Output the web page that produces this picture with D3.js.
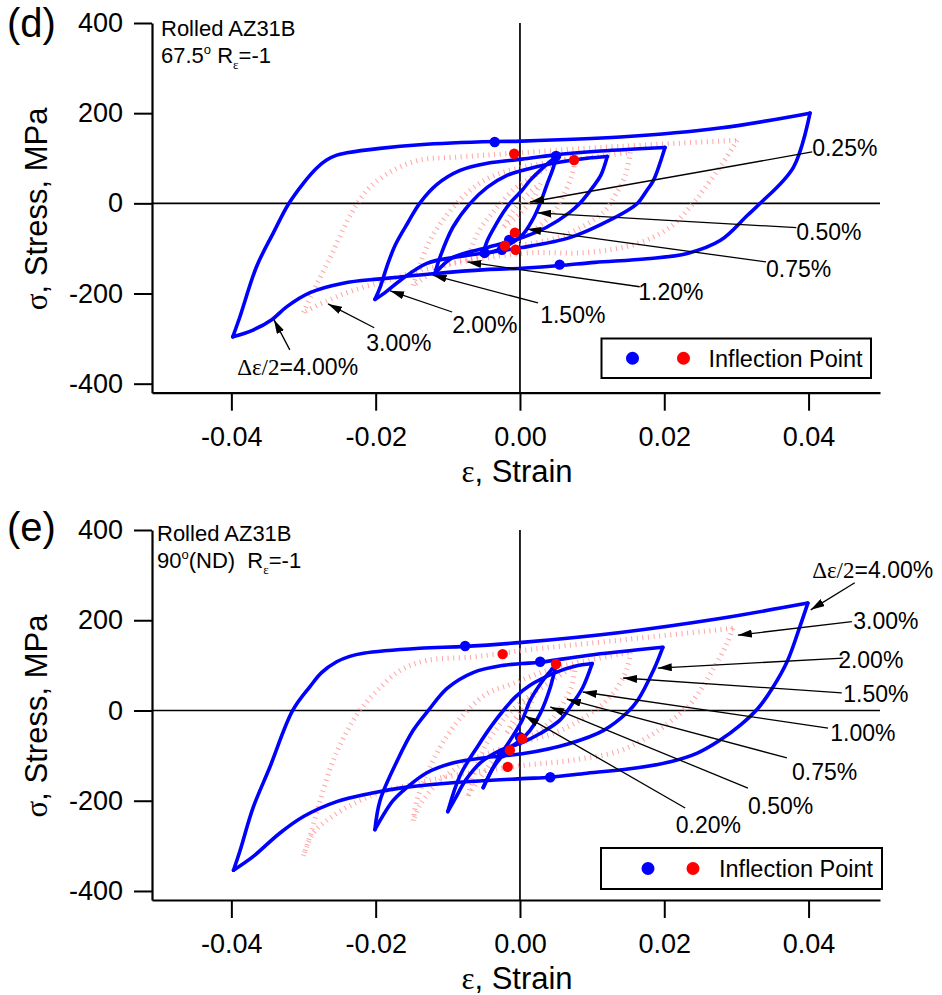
<!DOCTYPE html>
<html>
<head>
<meta charset="utf-8">
<script src="https://cdn.jsdelivr.net/npm/d3@7"></script>
<style>
  body { margin: 0; background: #fff; }
  svg text { font-family: "Liberation Sans", Arial, Helvetica, sans-serif; fill: #000; }
</style>
</head>
<body>
<svg id="fig" width="942" height="995"></svg>
<script>
// ---------- axes ----------
const strainDomain = [-0.051, 0.0499];
const stressDomain = [-420, 400];
const strainTicks = [-0.04, -0.02, 0, 0.02, 0.04];
const stressTicks = [-400, -200, 0, 200, 400];

// ---------- (d) 67.5 deg, hysteresis loops [strain, stress MPa], start at tensile tip ----------
const d400 = [[0.0402,200],[0.0379,80],[0.0333,0],[0.0315,-27],[0.0278,-82],[0.0232,-111],[0.0176,-123],[0.0104,-131],[0.0055,-138],[0.0003,-144],[-0.0047,-147],[-0.0121,-156],[-0.0190,-167],[-0.0245,-177],[-0.0291,-198],[-0.0323,-229],[-0.0344,-258],[-0.0370,-281],[-0.0398,-296],
  [-0.0388,-251],[-0.0365,-140],[-0.0342,-66],[-0.0321,-2],[-0.0300,45],[-0.0282,78],[-0.0268,96],[-0.0254,107],[-0.0240,112],[-0.0194,122],[-0.0139,130],[-0.0035,137],[0.0003,138],[0.0139,147],[0.0277,167],[0.0402,200]];
const d200 = [[0.0201,124],[0.0185,51],[0.0176,29],[0.0163,0],[0.0149,-16],[0.0116,-44],[0.0069,-76],[0.0003,-98],[-0.0045,-109],[-0.0083,-118],[-0.0129,-133],[-0.0166,-171],[-0.0187,-198],[-0.0201,-213],
  [-0.0194,-187],[-0.0184,-138],[-0.0173,-93],[-0.0155,-42],[-0.0139,0],[-0.0115,42],[-0.0083,73],[-0.0045,89],[0.0003,98],[0.0046,107],[0.0112,116],[0.0201,124]];
const d120 = [[0.0121,104],[0.0112,62],[0.0101,36],[0.0083,0],[0.0069,-20],[0.0037,-53],[0.0003,-76],[-0.0045,-98],[-0.0093,-120],[-0.0118,-156],
  [-0.0111,-120],[-0.0093,-53],[-0.0069,0],[-0.0045,36],[-0.0018,62],[0.0003,73],[0.0046,89],[0.0093,100],[0.0121,104]];
const d050 = [[0.0050,102],[0.0046,78],[0.0037,40],[0.0028,0],[0.0017,-38],[0.0003,-71],[-0.0020,-96],[-0.0041,-109],[-0.0051,-111],
  [-0.0045,-82],[-0.0034,-49],[-0.0023,-20],[-0.0014,0],[0.0003,29],[0.0014,51],[0.0028,73],[0.0042,93],[0.0050,102]];
const d300 = [[0.0301,140],[0.0295,124],[0.0277,80],[0.0254,29],[0.0240,0],[0.0208,-53],[0.0163,-89],[0.0093,-109],[0.0003,-111],[-0.0139,-149],[-0.0184,-171],[-0.0231,-193],[-0.0267,-216],[-0.0300,-242],
  [-0.0288,-200],[-0.0263,-120],[-0.0239,-38],[-0.0226,-2],[-0.0208,36],[-0.0176,73],[-0.0139,96],[-0.0093,102],[-0.0009,111],[0.0112,124],[0.0301,140]];
const d150 = [[0.0153,113],[0.0146,62],[0.0132,18],[0.0118,-16],[0.0090,-49],[0.0049,-78],[0.0003,-93],[-0.0055,-116],[-0.0104,-138],[-0.0148,-182],
  [-0.0139,-138],[-0.0125,-82],[-0.0107,-38],[-0.0090,-4],[-0.0069,29],[-0.0041,58],[0.0003,80],[0.0069,96],[0.0153,113]];
const d075 = [[0.0077,107],[0.0072,62],[0.0062,24],[0.0049,-16],[0.0028,-49],[0.0003,-76],[-0.0034,-104],[-0.0072,-127],
  [-0.0066,-93],[-0.0055,-56],[-0.0041,-27],[-0.0027,0],[-0.0007,33],[0.0021,62],[0.0049,89],[0.0077,107]];
const d025 = [[0.0028,44],[0.0021,18],[0.0007,-11],[-0.0007,-33],[-0.0022,-51],
  [-0.0011,-20],[0.0003,7],[0.0017,29],[0.0028,44]];
const dInflBlue = [[-0.0035,136],[0.0050,105],[0.0055,-136],[-0.0025,-103],[-0.0015,-81],[-0.0049,-110]];
const dInflRed = [[-0.0008,110],[0.0075,96],[-0.0007,-65],[-0.0006,-103],[-0.0021,-94]];
const dNoteLabels = ["0.25%","0.50%","0.75%","1.20%","1.50%","2.00%","3.00%","4.00%"];
const dNoteText = [[0.0405,123],[0.0383,-63],[0.0341,-145],[0.0164,-196],[0.0028,-247],[-0.0094,-269],[-0.0213,-309],[-0.0392,-362]];
const dNoteFrom = [[0.0405,114],[0.0383,-54],[0.0341,-130],[0.0166,-185],[0.0025,-221],[-0.0094,-241],[-0.0202,-276],[-0.0319,-325]];
const dNoteTip = [[0.0014,3],[0.0024,-21],[0.0010,-57],[-0.0073,-130],[-0.0121,-159],[-0.0180,-194],[-0.0266,-223],[-0.0341,-258]];

// ---------- (e) 90 deg (ND) ----------
const e400 = [[0.0399,238],[0.0388,186],[0.0371,111],[0.0350,50],[0.0330,5],[0.0305,-33],[0.0277,-66],[0.0245,-95],[0.0210,-113],[0.0163,-127],[0.0093,-139],[0.0042,-148],[0.0003,-151],[-0.0093,-160],[-0.0162,-171],[-0.0208,-184],[-0.0254,-202],[-0.0300,-235],[-0.0333,-272],[-0.0370,-324],[-0.0397,-354],
  [-0.0388,-311],[-0.0370,-216],[-0.0347,-127],[-0.0315,0],[-0.0291,53],[-0.0275,84],[-0.0254,108],[-0.0236,120],[-0.0217,127],[-0.0139,138],[-0.0076,142],[0.0003,151],[0.0139,173],[0.0277,204],[0.0399,238]];
const e200 = [[0.0198,140],[0.0185,89],[0.0163,22],[0.0149,-4],[0.0116,-44],[0.0069,-73],[0.0003,-96],[-0.0045,-104],[-0.0092,-116],[-0.0129,-138],[-0.0157,-171],[-0.0176,-200],[-0.0201,-264],
  [-0.0194,-200],[-0.0170,-111],[-0.0148,-44],[-0.0127,0],[-0.0101,49],[-0.0065,84],[-0.0023,100],[0.0003,104],[0.0028,107],[0.0093,122],[0.0198,140]];
const e100 = [[0.0100,104],[0.0087,51],[0.0073,16],[0.0055,-22],[0.0028,-51],[0.0003,-71],[-0.0028,-89],[-0.0055,-116],[-0.0076,-156],[-0.0089,-193],[-0.0100,-224],
  [-0.0083,-144],[-0.0058,-78],[-0.0039,-33],[-0.0023,0],[-0.0007,29],[0.0014,56],[0.0049,84],[0.0076,98],[0.0100,104]];
const e050 = [[0.0050,102],[0.0042,51],[0.0028,-7],[0.0014,-44],[0.0003,-62],[-0.0018,-89],[-0.0037,-127],[-0.0051,-171],
  [-0.0032,-111],[-0.0014,-67],[0.0003,-22],[0.0014,22],[0.0032,67],[0.0050,102]];
const e300 = [[0.0295,182],[0.0287,149],[0.0267,89],[0.0240,22],[0.0222,-7],[0.0185,-51],[0.0139,-89],[0.0069,-111],[0.0003,-122],[-0.0092,-144],[-0.0139,-160],[-0.0194,-182],[-0.0231,-207],[-0.0263,-238],[-0.0287,-273],[-0.0300,-322],
  [-0.0290,-273],[-0.0277,-200],[-0.0259,-111],[-0.0239,-44],[-0.0222,0],[-0.0198,44],[-0.0166,89],[-0.0129,111],[-0.0069,118],[-0.0023,127],[0.0003,133],[0.0139,156],[0.0295,182]];
const e150 = [[0.0153,129],[0.0149,96],[0.0135,51],[0.0116,16],[0.0083,-22],[0.0046,-51],[0.0003,-71],[-0.0041,-93],[-0.0083,-122],[-0.0118,-167],[-0.0139,-211],[-0.0148,-244],
  [-0.0143,-200],[-0.0129,-140],[-0.0111,-82],[-0.0093,-38],[-0.0073,0],[-0.0045,38],[-0.0009,60],[0.0046,93],[0.0153,129]];
const e075 = [[0.0077,100],[0.0072,56],[0.0062,22],[0.0049,-11],[0.0028,-44],[0.0003,-67],[-0.0027,-93],[-0.0048,-133],[-0.0072,-189],
  [-0.0062,-133],[-0.0048,-78],[-0.0031,-38],[-0.0014,-4],[0.0014,33],[0.0049,71],[0.0077,100]];
const e020 = [[0.0022,44],[0.0017,22],[0.0007,-4],[-0.0007,-31],[-0.0018,-49],
  [-0.0009,-22],[0.0003,0],[0.0011,22],[0.0022,44]];
const eInflBlue = [[-0.0076,143],[0.0028,108],[0.0042,-148],[0.0000,-59],[-0.0025,-95]];
const eInflRed = [[-0.0024,125],[0.0050,103],[0.0003,-63],[-0.0014,-88],[-0.0017,-125]];
const eNoteLabels = ["4.00%","3.00%","2.00%","1.50%","1.00%","0.75%","0.50%","0.20%"];
const eNoteText = [[0.0405,313],[0.0462,199],[0.0441,112],[0.0448,37],[0.0430,-49],[0.0377,-136],[0.0316,-212],[0.0216,-254]];
const eNoteFrom = [[0.0464,283],[0.0460,197],[0.0448,116],[0.0446,39],[0.0427,-39],[0.0370,-105],[0.0316,-172],[0.0229,-216]];
const eNoteTip = [[0.0403,223],[0.0302,167],[0.0191,94],[0.0143,72],[0.0087,41],[0.0065,25],[0.0042,8],[0.0007,-12]];

// ---------- drawing ----------
const svg = d3.select("#fig");
const SANS = '"Liberation Sans", Arial, Helvetica, sans-serif';
const SERIF = '"Liberation Serif", "Times New Roman", serif';

svg.append("defs").append("marker")
  .attr("id", "arrowhead").attr("viewBox", "0 0 14 8")
  .attr("refX", 14).attr("refY", 4)
  .attr("markerWidth", 14).attr("markerHeight", 8)
  .attr("markerUnits", "userSpaceOnUse").attr("orient", "auto")
  .append("path").attr("d", "M0,0L14,4L0,8Z").attr("fill", "#000");

// split a loop at its compressive tip so both reversals stay sharp
function branches(loop) {
  const iMin = d3.minIndex(loop, p => p[0]);
  return [loop.slice(0, iMin + 1), loop.slice(iMin)];
}

function drawPanel(p) {
  const x = d3.scaleLinear().domain(strainDomain).range([152, 880]);
  const y = d3.scaleLinear().domain(stressDomain).range([p.bottom, p.top]);
  const g = svg.append("g");
  const line = d3.line().x(d => x(d[0])).y(d => y(d[1])).curve(d3.curveCatmullRom.alpha(0.5));

  // zero reference lines
  g.append("line").attr("x1", x(strainDomain[0])).attr("x2", x(strainDomain[1]))
    .attr("y1", y(0)).attr("y2", y(0)).attr("stroke", "#000").attr("stroke-width", 1.7);
  g.append("line").attr("x1", x(0)).attr("x2", x(0))
    .attr("y1", y(stressDomain[0])).attr("y2", y(stressDomain[1])).attr("stroke", "#000").attr("stroke-width", 1.7);

  // dotted (red) loops
  p.dotted.forEach(loop => branches(loop).forEach(b => {
    g.append("path").attr("d", line(b)).attr("fill", "none")
      .attr("stroke", "#ff8c8c").attr("stroke-width", 5).attr("stroke-opacity", 0.8)
      .attr("stroke-dasharray", "1,4.6");
  }));
  // solid (blue) loops
  p.solid.forEach(loop => branches(loop).forEach(b => {
    g.append("path").attr("d", line(b)).attr("fill", "none")
      .attr("stroke", "#0000ff").attr("stroke-width", 3.6)
      .attr("stroke-linejoin", "round").attr("stroke-linecap", "round");
  }));

  // inflection points
  g.selectAll(null).data(p.inflBlue).join("circle")
    .attr("cx", d => x(d[0])).attr("cy", d => y(d[1])).attr("r", 5.2).attr("fill", "#0000ff");
  g.selectAll(null).data(p.inflRed).join("circle")
    .attr("cx", d => x(d[0])).attr("cy", d => y(d[1])).attr("r", 5.2).attr("fill", "#ff0000");

  // amplitude annotations
  p.noteLabels.forEach((lab, i) => {
    g.append("line")
      .attr("x1", x(p.noteFrom[i][0])).attr("y1", y(p.noteFrom[i][1]))
      .attr("x2", x(p.noteTip[i][0])).attr("y2", y(p.noteTip[i][1]))
      .attr("stroke", "#000").attr("stroke-width", 1.3).attr("marker-end", "url(#arrowhead)");
    const t = g.append("text").attr("x", x(p.noteText[i][0])).attr("y", y(p.noteText[i][1]))
      .attr("dy", "0.36em").attr("font-size", 23);
    if (lab === "4.00%") {
      t.append("tspan").attr("font-family", SERIF).text("\u0394\u03b5/2");
      t.append("tspan").text("=" + lab);
    } else {
      t.text(lab);
    }
  });

  // axes
  const xa = d3.axisBottom(x).tickValues(strainTicks).tickFormat(d => d.toFixed(2))
    .tickSize(18).tickSizeOuter(0).tickPadding(16);
  const ya = d3.axisLeft(y).tickValues(stressTicks).tickFormat(d => String(d))
    .tickSize(18).tickSizeOuter(0).tickPadding(11);
  const gx = g.append("g").attr("transform", `translate(0,${p.bottom})`).call(xa);
  const gy = g.append("g").attr("transform", "translate(152,0)").call(ya);
  [gx, gy].forEach(a => {
    a.attr("font-family", null).attr("font-size", null);
    a.select(".domain").attr("stroke-width", 2.2);
    a.selectAll(".tick line").attr("stroke-width", 2);
    a.selectAll(".tick text").attr("font-size", 27).attr("font-family", SANS);
  });

  // axis titles
  const xt = g.append("text").attr("x", 517).attr("y", p.bottom + 89)
    .attr("text-anchor", "middle").attr("font-size", 31);
  xt.append("tspan").attr("font-family", SERIF).text("\u03b5");
  xt.append("tspan").text(", Strain");
  const yt = g.append("text").attr("transform", `translate(47,${(p.top + p.bottom) / 2 + 1}) rotate(-90)`)
    .attr("text-anchor", "middle").attr("font-size", 31);
  yt.append("tspan").attr("font-family", SERIF).text("\u03c3");
  yt.append("tspan").text(", Stress, MPa");

  // panel letter
  svg.append("text").attr("x", 7).attr("y", p.top + p.letterDy).attr("font-size", 40).text(p.letter);

  // specimen note
  g.append("text").attr("x", p.noteX).attr("y", p.top + p.noteDy).attr("font-size", 22).text("Rolled AZ31B");
  const n2 = g.append("text").attr("x", p.noteX).attr("y", p.top + p.noteDy + 27)
    .attr("font-size", 22).style("white-space", "pre");
  n2.append("tspan").text(p.angle);
  n2.append("tspan").attr("font-size", 13).attr("dy", -9).text("o");
  n2.append("tspan").attr("dy", 9).text(p.after);
  n2.append("tspan").attr("font-size", 13).attr("dy", 6).attr("font-family", SERIF).text("\u03b5");
  n2.append("tspan").attr("dy", -6).text("=-1");

  // legend
  const L = p.legend;
  g.append("rect").attr("x", L[0]).attr("y", L[1]).attr("width", L[2]).attr("height", L[3])
    .attr("fill", "#fff").attr("stroke", "#000").attr("stroke-width", 2);
  g.append("circle").attr("cx", L[0] + L[4]).attr("cy", L[1] + L[3] / 2).attr("r", 6.5).attr("fill", "#0000ff");
  g.append("circle").attr("cx", L[0] + L[5]).attr("cy", L[1] + L[3] / 2).attr("r", 6.5).attr("fill", "#ff0000");
  g.append("text").attr("x", L[0] + L[6]).attr("y", L[1] + L[3] / 2).attr("dy", "0.36em")
    .attr("font-size", 23.5).text("Inflection Point");
}

drawPanel({
  top: 23, bottom: 392.7, letter: "(d)", letterDy: 14, noteX: 161, noteDy: 13, angle: "67.5", after: " R",
  solid: [d400, d200, d120, d050], dotted: [d300, d150, d075, d025],
  inflBlue: dInflBlue, inflRed: dInflRed,
  noteLabels: dNoteLabels, noteText: dNoteText, noteFrom: dNoteFrom, noteTip: dNoteTip,
  legend: [601.5, 338.5, 269.5, 39.5, 31, 82, 107]
});
drawPanel({
  top: 530, bottom: 900, letter: "(e)", letterDy: 11, noteX: 157, noteDy: 11, angle: "90", after: "(ND)  R",
  solid: [e400, e200, e100, e050], dotted: [e300, e150, e075, e020],
  inflBlue: eInflBlue, inflRed: eInflRed,
  noteLabels: eNoteLabels, noteText: eNoteText, noteFrom: eNoteFrom, noteTip: eNoteTip,
  legend: [601, 848, 281, 41, 47, 92, 118]
});
</script>
</body>
</html>
